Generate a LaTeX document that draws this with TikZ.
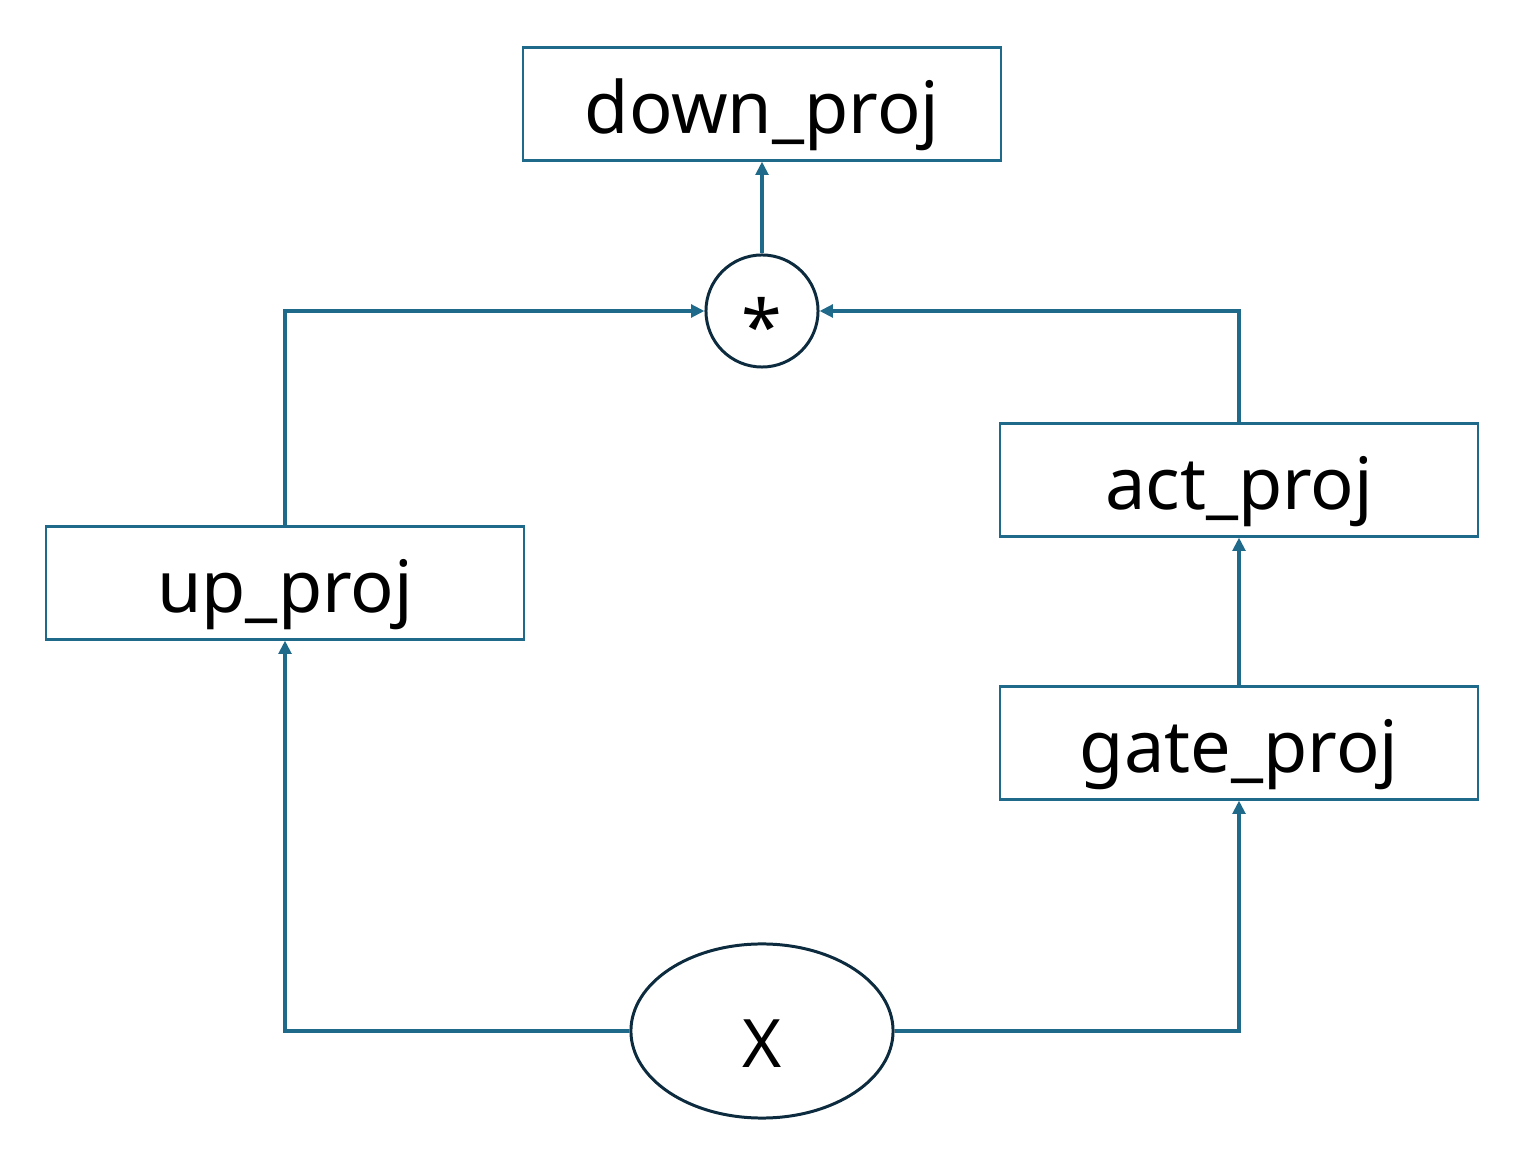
\documentclass[tikz,border=0pt]{standalone}
\usepackage{fontspec}
\setmainfont{Noto Sans}
\usetikzlibrary{shapes.geometric,arrows.meta}
\definecolor{linec}{HTML}{1F6A8A}
\definecolor{darkc}{HTML}{0D2B3E}
\begin{document}
\begin{tikzpicture}[x=0.01cm,y=-0.01cm,
  box/.style={draw=linec,line width=0.6pt,minimum width=4.78cm,minimum height=1.13cm,inner sep=0pt,text height=17.5pt,text depth=0.5pt,font=\fontsize{20.5}{24}\selectfont},
  conn/.style={draw=linec,line width=1.05pt,-{Triangle[length=3.8pt,width=3.6pt]}},
  op/.style={draw=darkc,line width=0.85pt,inner sep=0pt}]
\useasboundingbox (0,0) rectangle (1532,1152);
\node[box] (down) at (762,104) {down\_proj};
\node[box] (up) at (285,583) {up\_proj};
\node[box] (act) at (1239,480) {act\_proj};
\node[box] (gate) at (1239,743) {gate\_proj};
\node[op,circle,minimum size=1.12cm,text height=24pt,text depth=0pt,font=\fontsize{21}{24}\selectfont] (mul) at (762,311) {*};
\node[op,ellipse,minimum width=2.62cm,minimum height=1.74cm,text height=20.5pt,text depth=0pt,font=\fontsize{19}{23}\selectfont] (x) at (762,1031) {X};
\draw[conn] (mul) -- (down);
\draw[conn] (up.north) |- (mul.west);
\draw[conn] (act.north) |- (mul.east);
\draw[conn] (x.west) -| (up.south);
\draw[conn] (x.east) -| (gate.south);
\draw[conn] (gate) -- (act);
\end{tikzpicture}
\end{document}
